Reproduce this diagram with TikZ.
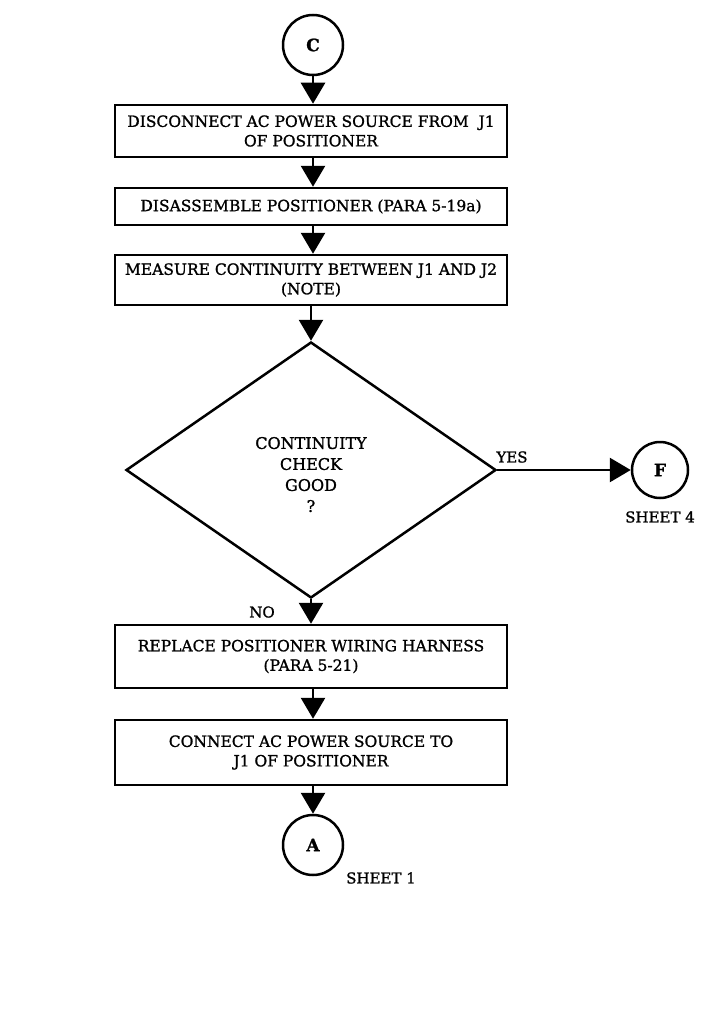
\documentclass[tikz,border=0pt]{standalone}
\usepackage{fontspec}
\setmainfont{DejaVu Serif}[FakeBold=1.2]
\usetikzlibrary{shapes.geometric,arrows.meta}
\begin{document}
\begin{tikzpicture}[x=1pt,y=-1pt,
  every node/.style={font=\fontsize{15.5}{19.5}\selectfont},
  box/.style={draw,line width=2.5pt,minimum width=392pt,align=center,inner sep=0pt},
  conn/.style={draw,circle,line width=2.5pt,minimum size=60pt,inner sep=0pt,font=\fontsize{17}{18}\selectfont\bfseries},
  dec/.style={draw,diamond,line width=2.5pt,minimum width=370pt,minimum height=256pt,inner sep=0pt,align=center,font=\fontsize{16}{21}\selectfont},
  flow/.style={line width=2.8pt,-{Triangle[length=21pt,width=24pt]}},
  lbl/.style={inner sep=0pt,font=\fontsize{15}{16}\selectfont}]
\useasboundingbox (0,0) rectangle (710,1014);
\node[conn] (C) at (313,45) {C};
\node[box,minimum height=52pt] (b1) at (311,131) {DISCONNECT AC POWER SOURCE FROM\ \ J1\\OF POSITIONER};
\node[box,minimum height=37pt] (b2) at (311,206.5) {DISASSEMBLE POSITIONER (PARA 5-19a)};
\node[box,minimum height=50pt] (b3) at (311,280) {MEASURE CONTINUITY BETWEEN J1 AND J2\\(NOTE)};
\node[dec] (d) at (311,470) {\\CONTINUITY\\CHECK\\GOOD\\?};
\node[conn,minimum size=56pt] (F) at (660,470) {F};
\node[lbl] (s4) at (660,517) {SHEET 4};
\node[lbl] (yes) at (512,457) {YES};
\node[lbl] (no) at (262,612) {NO};
\node[box,minimum height=63pt] (b4) at (311,656.5) {REPLACE POSITIONER WIRING HARNESS\\(PARA 5-21)};
\node[box,minimum height=65pt] (b5) at (311,752.5) {CONNECT AC POWER SOURCE TO\\J1 OF POSITIONER};
\node[conn] (A) at (313,845) {A};
\node[lbl,anchor=west] (s1) at (346,878) {SHEET 1};
\draw[flow] (C) -- (C |- b1.north);
\draw[flow] (b1.south -| C) -- (C |- b2.north);
\draw[flow] (b2.south -| C) -- (C |- b3.north);
\draw[flow] (b3.south -| d) -- (d.north);
\draw[flow] (d.east) -- (F);
\draw[flow] (d.south) -- (d |- b4.north);
\draw[flow] (b4.south -| C) -- (C |- b5.north);
\draw[flow] (b5.south -| C) -- (A);
\end{tikzpicture}
\end{document}
